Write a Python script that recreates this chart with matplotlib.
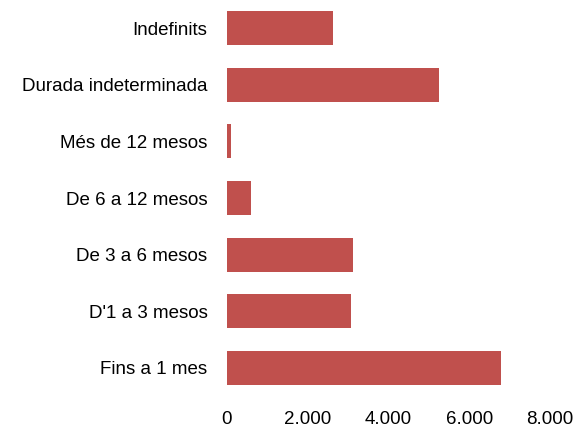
import matplotlib.pyplot as plt
import numpy as np

categories = ['Indefinits', 'Durada indeterminada', 'Més de 12 mesos', 'De 6 a 12 mesos',
              'De 3 a 6 mesos', "D'1 a 3 mesos", 'Fins a 1 mes']
values = [2620, 5250, 100, 600, 3120, 3070, 6780]
xticks = [0, 2000, 4000, 6000, 8000]
xtick_labels = ['0', '2.000', '4.000', '6.000', '8.000']

plt.rcParams['font.family'] = ['Liberation Sans', 'DejaVu Sans']

fig = plt.figure(figsize=(5.8, 4.32), dpi=100)
ax = fig.add_axes([227 / 580, 1 - 396 / 432, 323 / 580, 396 / 432])

y = np.arange(len(categories))
ax.barh(y, values, height=0.6, color='#C0504D')
ax.set_ylim(len(categories) - 0.5, -0.5)
ax.set_xlim(0, 8000)

ax.set_yticks(y, categories, fontsize=13.5)
ax.set_xticks(xticks, xtick_labels, fontsize=13.5)
ax.tick_params(axis='both', length=0)
ax.tick_params(axis='y', pad=14)
ax.tick_params(axis='x', pad=11)
for s in ax.spines.values():
    s.set_visible(False)

plt.savefig('out.png')
